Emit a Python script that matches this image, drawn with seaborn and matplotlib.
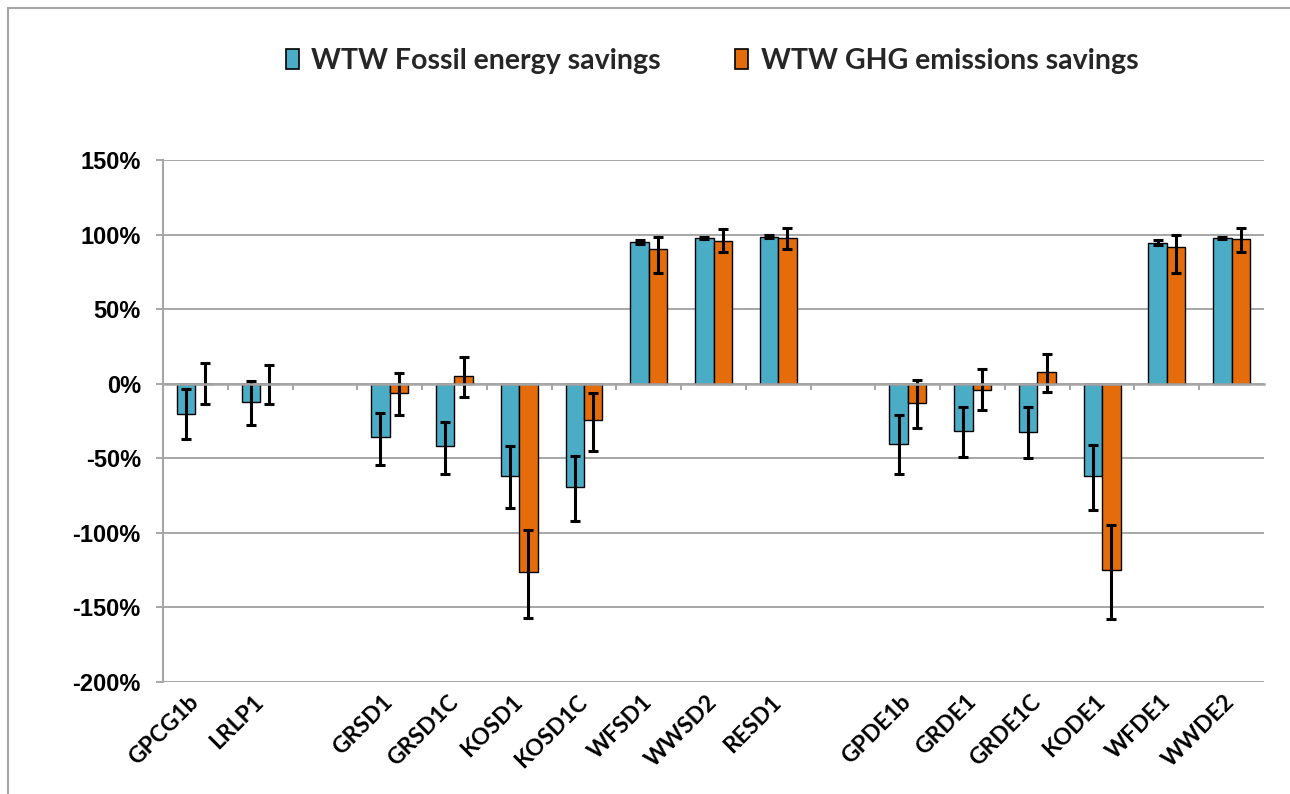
import numpy as np
import pandas as pd
import matplotlib
matplotlib.use("Agg")
import matplotlib.pyplot as plt
import seaborn as sns
from matplotlib.patches import Patch
from matplotlib.lines import Line2D
from matplotlib.ticker import FuncFormatter

categories = ["GPCG1b", "LRLP1", "", "GRSD1", "GRSD1C", "KOSD1", "KOSD1C",
              "WFSD1", "WWSD2", "RESD1", " ", "GPDE1b", "GRDE1", "GRDE1C",
              "KODE1", "WFDE1", "WWDE2"]
series = ["WTW Fossil energy savings", "WTW GHG emissions savings"]

fossil = [-20, -12, np.nan, -36, -42, -62, -69, 95, 97.5, 98.7, np.nan,
          -40.6, -31.4, -32.6, -62, 94.6, 97.8]
fossil_err_up = [16.5, 14, np.nan, 16.5, 16.5, 20, 20.5, 1.5, 0.6, 0.7, np.nan,
                 19.6, 15.7, 16.9, 21, 1.5, 0.6]
fossil_err_low = [17, 16, np.nan, 18.5, 18.5, 21.5, 23, 1.5, 0.6, 0.7, np.nan,
                  20, 17.9, 17.4, 23, 1.5, 0.6]
ghg = [-0.5, -0.5, np.nan, -6, 5, -126, -24, 90.6, 95.8, 97.6, np.nan,
       -13, -4, 8, -125, 91.7, 96.9]
ghg_err_up = [14.5, 13.3, np.nan, 13, 13, 28, 17.5, 8.1, 7.8, 6.9, np.nan,
              15.2, 13.6, 12, 30, 7.9, 7.6]
ghg_err_low = [13, 13, np.nan, 15, 14, 31, 21, 16.6, 7.8, 7.6, np.nan,
               17, 13.7, 13.6, 32.7, 17.7, 8.9]

yticks = [-200, -150, -100, -50, 0, 50, 100, 150]

blue = "#4BACC6"
orange = "#E46C0A"
grid_gray = "#A6A6A6"
narrow = ["Lato", "DejaVu Sans"]
arial = ["Liberation Sans", "DejaVu Sans"]

df = pd.DataFrame({
    "category": categories * 2,
    "series": [series[0]] * len(categories) + [series[1]] * len(categories),
    "value": fossil + ghg,
})
df = df.dropna()

sns.set_theme(style="white")
fig = plt.figure(figsize=(12.9, 7.94), dpi=100)
ax = fig.add_axes([163 / 1290, 1 - 682 / 794, (1264 - 163) / 1290, (682 - 160) / 794])

sns.barplot(data=df, x="category", y="value", hue="series",
            order=categories, hue_order=series, palette=[blue, orange],
            width=0.57, errorbar=None, edgecolor="black", linewidth=1.0,
            saturation=1, legend=False, ax=ax, zorder=3)

errs = [(fossil_err_low, fossil_err_up), (ghg_err_low, ghg_err_up)]
for cont, (elow, eup) in zip(ax.containers, errs):
    for p in cont.patches:
        xc = p.get_x() + p.get_width() / 2
        idx = int(round(xc))
        yv = p.get_y() + p.get_height()
        ax.errorbar(xc, yv, yerr=[[elow[idx]], [eup[idx]]], fmt="none",
                    ecolor="black", elinewidth=2.2, capsize=3.3,
                    capthick=2.2, zorder=4)

ax.set_xlim(-0.5, len(categories) - 0.5)
ax.set_ylim(-200, 150)
ax.set_yticks(yticks)
ax.yaxis.set_major_formatter(FuncFormatter(lambda v, pos: f"{int(v)}%"))
ax.grid(axis="y", color=grid_gray, linewidth=1.4, zorder=0)
ax.grid(axis="x", visible=False)
ax.set_axisbelow(True)
ax.set_xlabel("")
ax.set_ylabel("")

for s in ["top", "right"]:
    ax.spines[s].set_visible(False)
ax.spines["left"].set_color(grid_gray)
ax.spines["left"].set_linewidth(1.5)
ax.spines["bottom"].set_position(("data", 0))
ax.spines["bottom"].set_color(grid_gray)
ax.spines["bottom"].set_linewidth(1.8)
ax.spines["bottom"].set_zorder(5)

ax.tick_params(axis="y", left=True, length=5, width=1.4, color=grid_gray,
               pad=11, labelsize=17)
for lab in ax.get_yticklabels():
    lab.set_fontfamily(arial)
    lab.set_fontweight("bold")
    lab.set_color("black")

boundaries = np.arange(0.5, len(categories) - 0.5, 1.0)
ax.set_xticks(boundaries)
ax.tick_params(axis="x", bottom=True, length=4, width=1.4, color=grid_gray,
               labelbottom=False, direction="out")

sec = ax.secondary_xaxis("bottom")
sec.set_xticks(range(len(categories)))
sec.set_xticklabels(categories)
sec.tick_params(axis="x", length=0, pad=12)
sec.spines["bottom"].set_visible(False)
for lab in sec.get_xticklabels():
    lab.set_rotation(45)
    lab.set_ha("right")
    lab.set_va("center")
    lab.set_rotation_mode("anchor")
    lab.set_fontfamily(narrow)
    lab.set_fontweight("bold")
    lab.set_fontsize(16.5)
    lab.set_color("black")

handles = [Patch(facecolor=blue, edgecolor="black", linewidth=1.2),
           Patch(facecolor=orange, edgecolor="black", linewidth=1.2)]
leg = fig.legend(handles, series, loc="center",
                 bbox_to_anchor=(712 / 1290, 1 - 61 / 794), ncol=2,
                 frameon=False, handlelength=0.45, handleheight=0.75,
                 handletextpad=0.45, columnspacing=2.6,
                 prop={"family": narrow, "weight": "bold", "size": 20.5})

fig.add_artist(Line2D([8 / 1290, 8 / 1290], [0, 1 - 8 / 794],
                      transform=fig.transFigure, color=grid_gray, linewidth=1.5))
fig.add_artist(Line2D([8 / 1290, 1], [1 - 8 / 794, 1 - 8 / 794],
                      transform=fig.transFigure, color=grid_gray, linewidth=1.5))

fig.savefig("out.png", dpi=100, facecolor="white")
